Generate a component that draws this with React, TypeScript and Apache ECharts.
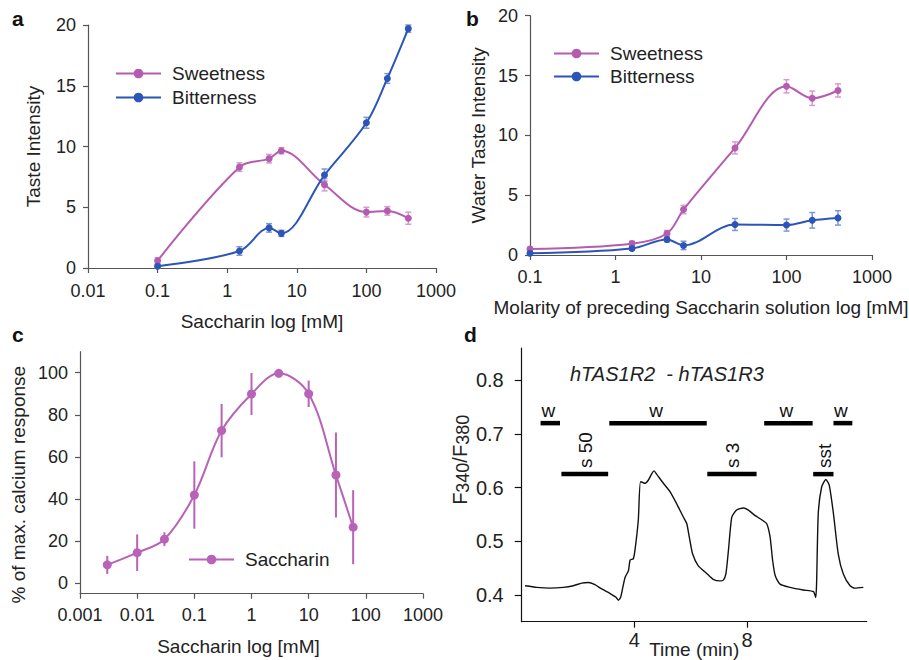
import React, { useEffect, useRef } from "react";
import * as echarts from "echarts";

const FONT = "'Liberation Sans', Arial, sans-serif";
const SWEET = "#b65cb0";
const BITTER = "#2b55b6";
const SWEET_ERR = "#d49bd0";
const BITTER_ERR = "#7d97d6";
const SACC = "#b862b8";
const AXIS = "#555";
const TXT = "#222";

// Panel a: taste intensity vs saccharin concentration
const aConc = [0.1, 1.5, 4, 6, 25, 100, 200, 400];
const aSweet = [0.6, 8.3, 9.0, 9.65, 6.85, 4.6, 4.7, 4.1];
const aSweetErr = [0.25, 0.35, 0.35, 0.25, 0.5, 0.4, 0.35, 0.5];
const aBitter = [0.15, 1.4, 3.3, 2.85, 7.65, 11.95, 15.6, 19.7];
const aBitterErr = [0.15, 0.35, 0.35, 0.25, 0.5, 0.45, 0.4, 0.3];

// Panel b: water taste intensity after saccharin
const bConc = [0.1, 1.56, 4, 6.25, 25, 100, 200, 400];
const bSweet = [0.5, 0.95, 1.8, 3.8, 8.95, 14.1, 13.1, 13.75];
const bSweetErr = [0.15, 0.2, 0.25, 0.35, 0.5, 0.55, 0.6, 0.55];
const bBitter = [0.15, 0.55, 1.3, 0.8, 2.55, 2.5, 2.9, 3.1];
const bBitterErr = [0.1, 0.15, 0.2, 0.35, 0.5, 0.5, 0.65, 0.6];

// Panel c: % of max calcium response
const cConc = [0.003, 0.01, 0.03, 0.1, 0.3, 1, 3, 10, 30, 60];
const cResp = [8.7, 14.5, 20.9, 41.9, 72.5, 89.9, 99.7, 90, 51.4, 26.6];
const cErr = [4.3, 8.7, 3.3, 16, 12.7, 10, 0.5, 6.3, 20.2, 17.6];

// Panel d: F340/F380 trace
const dTime = [0.12, 0.53, 1.0, 1.48, 1.83, 2.13, 2.37, 2.6, 2.84, 3.14, 3.34, 3.43, 3.51, 3.59, 3.67, 3.79, 3.85, 3.96, 4.02, 4.14, 4.22, 4.38, 4.5, 4.62, 4.7, 4.79, 5.03, 5.27, 5.5, 5.74, 5.86, 5.95, 6.07, 6.27, 6.57, 6.8, 7.04, 7.16, 7.25, 7.34, 7.46, 7.63, 7.87, 8.05, 8.28, 8.52, 8.7, 8.82, 8.91, 9.0, 9.17, 9.53, 10.0, 10.36, 10.44, 10.47, 10.53, 10.65, 10.8, 10.92, 11.07, 11.24, 11.42, 11.66, 11.83, 12.13];
const dRatio = [0.417, 0.414, 0.4125, 0.414, 0.417, 0.422, 0.423, 0.419, 0.411, 0.4025, 0.396, 0.39, 0.395, 0.414, 0.4325, 0.445, 0.465, 0.467, 0.4825, 0.539, 0.611, 0.608, 0.614, 0.626, 0.631, 0.625, 0.608, 0.592, 0.57, 0.545, 0.533, 0.508, 0.476, 0.454, 0.44, 0.429, 0.426, 0.4275, 0.439, 0.4825, 0.545, 0.558, 0.562, 0.558, 0.548, 0.54, 0.5325, 0.5075, 0.464, 0.436, 0.42, 0.414, 0.409, 0.406, 0.395, 0.42, 0.551, 0.601, 0.615, 0.6045, 0.551, 0.476, 0.439, 0.417, 0.4125, 0.414];
const stimStart = [0.67, 1.41, 3.11, 6.59, 8.61, 10.35, 11.07];
const stimEnd = [1.36, 3.07, 6.57, 8.34, 10.33, 11.07, 11.74];
const stimLevel = [0.72, 0.625, 0.72, 0.625, 0.72, 0.625, 0.72];
const stimLabel = ["w", "s 50", "w", "s 3", "w", "sst", "w"];

const cYTicks = [0, 20, 40, 60, 80, 100];
const dYTicks = [0.4, 0.5, 0.6, 0.7, 0.8];
const dXTicks = [4, 8];

const fmtLog = (v: number) => String(Number(v.toPrecision(6)));

function errorBars(gi: number, xs: number[], ys: number[], errs: number[], color: string, cap: number, width: number) {
  return {
    type: "custom",
    xAxisIndex: gi,
    yAxisIndex: gi,
    silent: true,
    z: 1,
    data: xs.map((x, i) => [x, ys[i] - errs[i], ys[i] + errs[i]]),
    encode: { x: 0, y: [1, 2] },
    renderItem: (params: any, api: any) => {
      const lo = api.coord([api.value(0), api.value(1)]);
      const hi = api.coord([api.value(0), api.value(2)]);
      const st = { stroke: color, lineWidth: width };
      const children: any[] = [
        { type: "line", shape: { x1: lo[0], y1: lo[1], x2: hi[0], y2: hi[1] }, style: st },
      ];
      if (cap > 0) {
        children.push({ type: "line", shape: { x1: lo[0] - cap, y1: lo[1], x2: lo[0] + cap, y2: lo[1] }, style: st });
        children.push({ type: "line", shape: { x1: hi[0] - cap, y1: hi[1], x2: hi[0] + cap, y2: hi[1] }, style: st });
      }
      return { type: "group", children };
    },
  };
}

function lineSeries(gi: number, name: string, xs: number[], ys: number[], color: string, size: number) {
  return {
    type: "line",
    name,
    xAxisIndex: gi,
    yAxisIndex: gi,
    data: xs.map((x, i) => [x, ys[i]]),
    smooth: 0.35,
    symbol: "circle",
    symbolSize: size,
    z: 3,
    itemStyle: { color },
    lineStyle: { color, width: 2 },
  };
}

const axisCommon = (color: string, fs: number) => ({
  axisLine: { show: true, onZero: false, lineStyle: { color, width: 1.2 } },
  axisTick: { show: true, length: 5, lineStyle: { color, width: 1.2 } },
  splitLine: { show: false },
  axisLabel: { color: TXT, fontSize: fs, fontFamily: FONT },
  nameTextStyle: { color: TXT, fontSize: 19, fontFamily: FONT },
  nameLocation: "middle",
  nameMoveOverlap: false,
});

export default function App() {
  const ref = useRef<HTMLDivElement>(null);
  useEffect(() => {
    if (!ref.current) return;
    const chart = echarts.init(ref.current, undefined, { renderer: "svg" });
    const legendText = { fontSize: 19, fontFamily: FONT, color: TXT, padding: [0, 0, 0, 6] };
    const option: any = {
      animation: false,
      backgroundColor: "#fff",
      grid: [
        { left: 88, top: 25, width: 348, height: 243, outerBoundsMode: "none" },
        { left: 530, top: 15.7, width: 342, height: 239.3, outerBoundsMode: "none" },
        { left: 80, top: 351.7, width: 343, height: 242, outerBoundsMode: "none" },
        { left: 521.7, top: 348, width: 345, height: 273.7, outerBoundsMode: "none" },
      ],
      legend: [
        { data: ["Sweetness", "Bitterness"], orient: "vertical", left: 110, top: 59, itemWidth: 45, itemHeight: 12, itemGap: 5, selectedMode: false, textStyle: legendText },
        { data: ["Sweetness", "Bitterness"], orient: "vertical", left: 548, top: 39, itemWidth: 45, itemHeight: 12, itemGap: 4, selectedMode: false, textStyle: legendText },
        { data: ["Saccharin"], orient: "vertical", left: 183, top: 545, itemWidth: 45, itemHeight: 12, selectedMode: false, textStyle: legendText },
      ],
      xAxis: [
        {
          ...axisCommon(AXIS, 18), type: "log", logBase: 10, gridIndex: 0, min: 0.01, max: 1000,
          axisLabel: { color: TXT, fontSize: 18, fontFamily: FONT, margin: 14, formatter: fmtLog },
          minorTick: { show: false },
          name: "Saccharin log [mM]", nameGap: 44,
        },
        {
          ...axisCommon(AXIS, 18), type: "log", logBase: 10, gridIndex: 1, min: 0.1, max: 1000,
          axisLabel: { color: TXT, fontSize: 18, fontFamily: FONT, margin: 13, formatter: fmtLog },
          name: "Molarity of preceding Saccharin solution log [mM]", nameGap: 43,
        },
        {
          ...axisCommon(AXIS, 18), type: "log", logBase: 10, gridIndex: 2, min: 0.001, max: 1000,
          axisLabel: { color: TXT, fontSize: 18, fontFamily: FONT, margin: 12, formatter: fmtLog },
          name: "Saccharin log [mM]", nameGap: 43,
          nameTextStyle: { color: TXT, fontSize: 19, fontFamily: FONT, padding: [0, 26, 0, 0] },
        },
        {
          ...axisCommon("#111", 20), type: "value", gridIndex: 3, min: 0, max: 12.25,
          axisTick: { show: true, length: 6, customValues: dXTicks, lineStyle: { color: "#111", width: 1.2 } },
          axisLabel: { color: TXT, fontSize: 20, fontFamily: FONT, margin: 8, customValues: dXTicks },
          name: "Time (min)", nameGap: 18,
          nameTextStyle: { color: TXT, fontSize: 19, fontFamily: FONT },
        },
      ],
      yAxis: [
        {
          ...axisCommon(AXIS, 18), type: "value", gridIndex: 0, min: 0, max: 20, interval: 5,
          axisLabel: { color: TXT, fontSize: 18, fontFamily: FONT, margin: 12 },
          name: "Taste Intensity", nameGap: 45,
        },
        {
          ...axisCommon(AXIS, 18), type: "value", gridIndex: 1, min: 0, max: 20, interval: 5,
          axisLabel: { color: TXT, fontSize: 18, fontFamily: FONT, margin: 12 },
          name: "Water Taste Intensity", nameGap: 42,
        },
        {
          ...axisCommon(AXIS, 18), type: "value", gridIndex: 2, min: -5, max: 110,
          axisTick: { show: true, length: 5, customValues: cYTicks, lineStyle: { color: AXIS, width: 1.2 } },
          axisLabel: { color: TXT, fontSize: 18, fontFamily: FONT, margin: 12, customValues: cYTicks },
          name: "% of max. calcium response", nameGap: 52,
          nameTextStyle: { color: TXT, fontSize: 19, fontFamily: FONT, padding: [0, 24, 0, 0] },
        },
        {
          ...axisCommon("#111", 20), type: "value", gridIndex: 3, min: 0.35, max: 0.86,
          axisTick: { show: true, length: 7, customValues: dYTicks, lineStyle: { color: "#111", width: 1.2 } },
          axisLabel: { color: TXT, fontSize: 20, fontFamily: FONT, margin: 18, customValues: dYTicks, formatter: (v: number) => v.toFixed(1) },
          name: "{b|F}{s|340}{b|/F}{s|380}", nameGap: 50,
          nameTextStyle: {
            color: TXT, fontFamily: FONT, padding: [0, 0, 0, 50],
            rich: { b: { fontSize: 20, fontFamily: FONT, color: TXT }, s: { fontSize: 18, fontFamily: FONT, color: TXT, padding: [5, 0, 0, 0] } },
          },
        },
      ],
      graphic: [
        { type: "text", left: 12, top: 8, style: { text: "a", fontSize: 21, fontWeight: "bold", fontFamily: FONT, fill: "#111" } },
        { type: "text", left: 466, top: 8, style: { text: "b", fontSize: 21, fontWeight: "bold", fontFamily: FONT, fill: "#111" } },
        { type: "text", left: 12, top: 324, style: { text: "c", fontSize: 21, fontWeight: "bold", fontFamily: FONT, fill: "#111" } },
        { type: "text", left: 464, top: 324, style: { text: "d", fontSize: 21, fontWeight: "bold", fontFamily: FONT, fill: "#111" } },
        { type: "text", left: 570, top: 364, style: { text: "hTAS1R2  - hTAS1R3", fontSize: 20, fontStyle: "italic", fontFamily: FONT, fill: "#222" } },
      ],
      series: [
        errorBars(0, aConc, aSweet, aSweetErr, SWEET_ERR, 3, 1.5),
        errorBars(0, aConc, aBitter, aBitterErr, BITTER_ERR, 3, 1.5),
        lineSeries(0, "Sweetness", aConc, aSweet, SWEET, 7),
        lineSeries(0, "Bitterness", aConc, aBitter, BITTER, 7),
        errorBars(1, bConc, bSweet, bSweetErr, SWEET_ERR, 3, 1.5),
        errorBars(1, bConc, bBitter, bBitterErr, BITTER_ERR, 3, 1.5),
        lineSeries(1, "Sweetness", bConc, bSweet, SWEET, 7),
        lineSeries(1, "Bitterness", bConc, bBitter, BITTER, 7),
        errorBars(2, cConc, cResp, cErr, SACC, 0, 2),
        lineSeries(2, "Saccharin", cConc, cResp, SACC, 9),
        {
          type: "line", name: "trace", xAxisIndex: 3, yAxisIndex: 3,
          data: dTime.map((t, i) => [t, dRatio[i]]),
          symbol: "none", smooth: 0.2,
          lineStyle: { color: "#111", width: 1.4 },
        },
        {
          type: "custom", xAxisIndex: 3, yAxisIndex: 3, silent: true,
          data: stimStart.map((s, i) => [s, stimEnd[i], stimLevel[i]]),
          encode: { x: [0, 1], y: 2 },
          renderItem: (params: any, api: any) => {
            const i = params.dataIndex;
            const p0 = api.coord([api.value(0), api.value(2)]);
            const p1 = api.coord([api.value(1), api.value(2)]);
            const cx = (p0[0] + p1[0]) / 2;
            const label = stimLabel[i];
            const rotated = label !== "w";
            const textEl = rotated
              ? { type: "text", x: cx + 1, y: p0[1] - 6, rotation: Math.PI / 2, style: { text: label, fontSize: 19, fontFamily: FONT, fill: "#111", align: "left", verticalAlign: "middle" } }
              : { type: "text", x: cx - 2, y: p0[1] - 3, style: { text: label, fontSize: 19, fontFamily: FONT, fill: "#111", align: "center", verticalAlign: "bottom" } };
            return {
              type: "group",
              children: [
                { type: "line", shape: { x1: p0[0], y1: p0[1], x2: p1[0], y2: p1[1] }, style: { stroke: "#000", lineWidth: 4.5 } },
                textEl,
              ],
            };
          },
        },
      ],
    };
    chart.setOption(option);
    return () => chart.dispose();
  }, []);
  return <div ref={ref} style={{ position: "absolute", left: 0, top: 0, width: 909, height: 660 }} />;
}
